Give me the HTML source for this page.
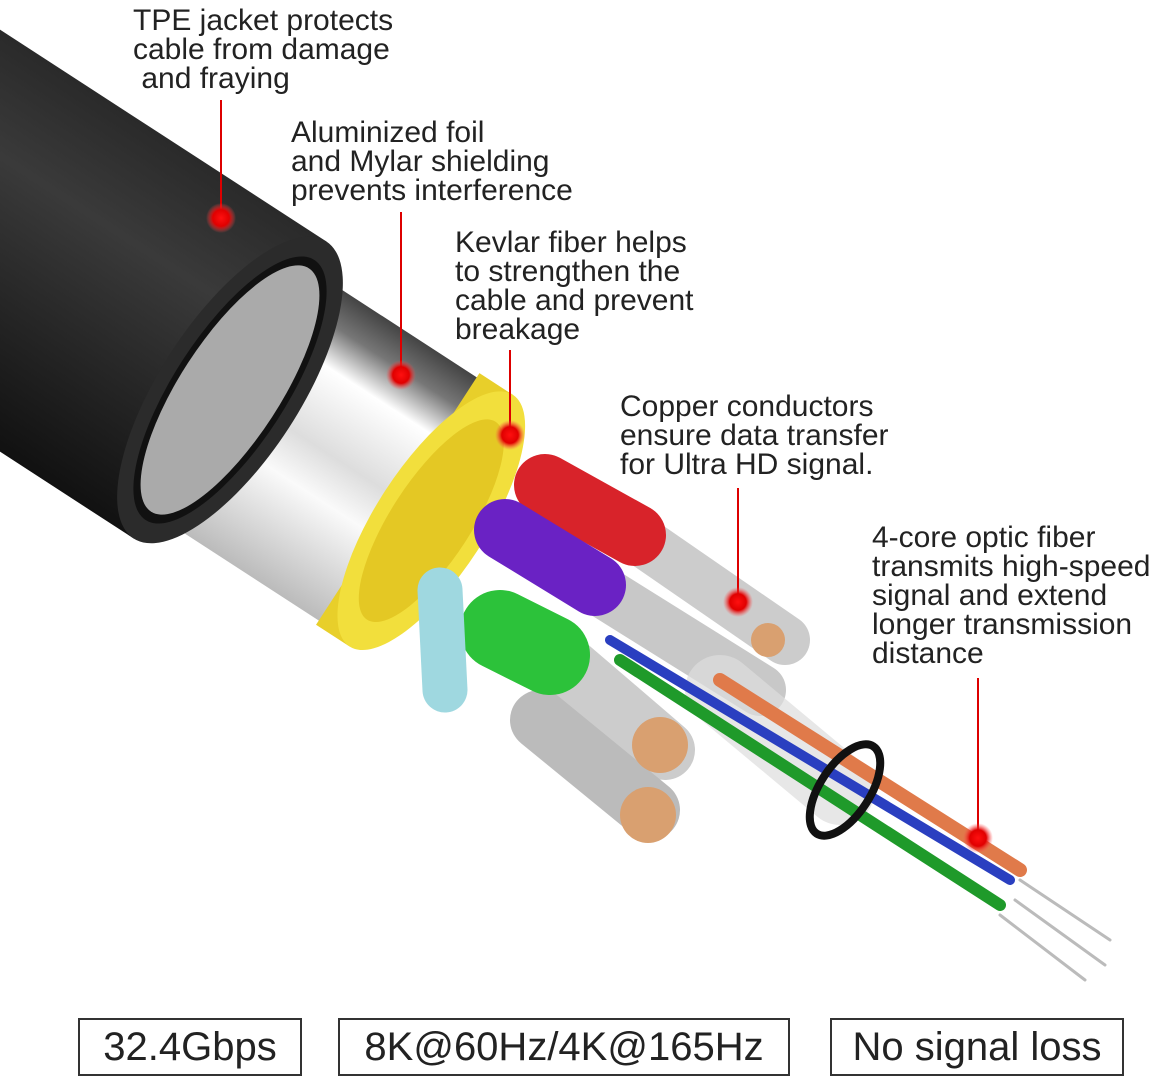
<!DOCTYPE html>
<html><head><meta charset="utf-8"><style>
html,body{margin:0;padding:0;background:#fff;}
body{width:1162px;height:1084px;position:relative;overflow:hidden;font-family:"Liberation Sans",sans-serif;}
.t{position:absolute;font-size:30px;line-height:29px;color:#222;white-space:pre;}
.b{position:absolute;border:2px solid #333;box-sizing:border-box;font-size:40px;color:#222;text-align:center;line-height:54px;}
</style></head><body>
<svg width="1162" height="1084" style="position:absolute;left:0;top:0">
<defs>
<linearGradient id="jk" x1="0" y1="0" x2="0" y2="1"><stop offset="0" stop-color="#2a2a2a"/><stop offset=".3" stop-color="#3a3a3a"/><stop offset="1" stop-color="#111"/></linearGradient>
<linearGradient id="fo" x1="0" y1="0" x2="0" y2="1"><stop offset="0" stop-color="#444"/><stop offset=".12" stop-color="#777"/><stop offset=".25" stop-color="#fff"/><stop offset=".5" stop-color="#ddd"/><stop offset=".65" stop-color="#fafafa"/><stop offset="1" stop-color="#bbb"/></linearGradient>
<radialGradient id="rd"><stop offset="0" stop-color="#ff1010"/><stop offset=".55" stop-color="#e00000"/><stop offset="1" stop-color="#ff5050" stop-opacity="0"/></radialGradient>
</defs>
<g transform="rotate(33 230 390) translate(230 0)">
 <rect x="-900" y="213" width="900" height="354" fill="url(#jk)"/>
 <rect x="0" y="245" width="230" height="290" fill="url(#fo)"/>
 <ellipse cx="0" cy="390" rx="70" ry="177" fill="#2b2b2b"/>
 <ellipse cx="0" cy="390" rx="56" ry="155" fill="#111"/>
 <ellipse cx="0" cy="390" rx="50" ry="145" fill="#aaa"/>
 <rect x="200" y="240" width="40" height="300" fill="#e8cf2a"/>
 <ellipse cx="240" cy="390" rx="55" ry="150" fill="#f2df3c"/>
 <ellipse cx="240" cy="390" rx="40" ry="118" fill="#e4c824"/>
</g>
<g stroke-linecap="round">
 <line x1="640" y1="540" x2="785" y2="640" stroke="#ccc" stroke-width="50"/>
 <line x1="545" y1="485" x2="635" y2="535" stroke="#d8232a" stroke-width="62"/>
 <line x1="600" y1="590" x2="760" y2="690" stroke="#c8c8c8" stroke-width="52"/>
 <line x1="505" y1="530" x2="595" y2="585" stroke="#6a22c4" stroke-width="62"/>
 <line x1="560" y1="660" x2="665" y2="750" stroke="#ccc" stroke-width="60"/>
 <line x1="540" y1="720" x2="650" y2="810" stroke="#bbb" stroke-width="60"/>
 <line x1="500" y1="630" x2="550" y2="655" stroke="#2cc23a" stroke-width="80"/>
 <line x1="440" y1="590" x2="445" y2="690" stroke="#9fd8e0" stroke-width="45"/>
 <line x1="720" y1="690" x2="840" y2="790" stroke="#ddd" stroke-width="70" stroke-opacity=".7"/>
 <line x1="610" y1="640" x2="1010" y2="880" stroke="#2a3fc0" stroke-width="10"/>
 <line x1="620" y1="660" x2="1000" y2="905" stroke="#1f9a2a" stroke-width="12"/>
 <line x1="720" y1="680" x2="1020" y2="870" stroke="#e07a4a" stroke-width="14"/>
 <line x1="1020" y1="880" x2="1110" y2="940" stroke="#bbb" stroke-width="3"/>
 <line x1="1015" y1="900" x2="1105" y2="965" stroke="#bbb" stroke-width="3"/>
 <line x1="1000" y1="915" x2="1085" y2="980" stroke="#bbb" stroke-width="3"/>
</g>
<ellipse cx="845" cy="790" rx="25" ry="52" transform="rotate(33 845 790)" fill="none" stroke="#111" stroke-width="8"/>
<circle cx="768" cy="640" r="17" fill="#d9a070"/>
<circle cx="660" cy="745" r="28" fill="#d9a070"/>
<circle cx="648" cy="815" r="28" fill="#d9a070"/>
<g stroke="#d00" stroke-width="2">
<line x1="221" y1="100" x2="221" y2="218"/><line x1="401" y1="212" x2="401" y2="375"/>
<line x1="510" y1="350" x2="510" y2="435"/><line x1="738" y1="488" x2="738" y2="602"/>
<line x1="978" y1="678" x2="978" y2="838"/></g>
<g fill="url(#rd)"><circle cx="221" cy="218" r="15"/><circle cx="401" cy="375" r="15"/><circle cx="510" cy="435" r="15"/><circle cx="738" cy="602" r="15"/><circle cx="978" cy="838" r="15"/></g>
</svg>
<div class="t" style="left:133px;top:6px">TPE jacket protects
cable from damage
 and fraying</div>
<div class="t" style="left:291px;top:118px">Aluminized foil
and Mylar shielding
prevents interference</div>
<div class="t" style="left:455px;top:228px">Kevlar fiber helps
to strengthen the
cable and prevent
breakage</div>
<div class="t" style="left:620px;top:392px">Copper conductors
ensure data transfer
for Ultra HD signal.</div>
<div class="t" style="left:872px;top:523px">4-core optic fiber
transmits high-speed
signal and extend
longer transmission
distance</div>
<div class="b" style="left:78px;top:1018px;width:224px;height:58px">32.4Gbps</div>
<div class="b" style="left:338px;top:1018px;width:452px;height:58px">8K@60Hz/4K@165Hz</div>
<div class="b" style="left:830px;top:1018px;width:294px;height:58px">No signal loss</div>
</body></html>
